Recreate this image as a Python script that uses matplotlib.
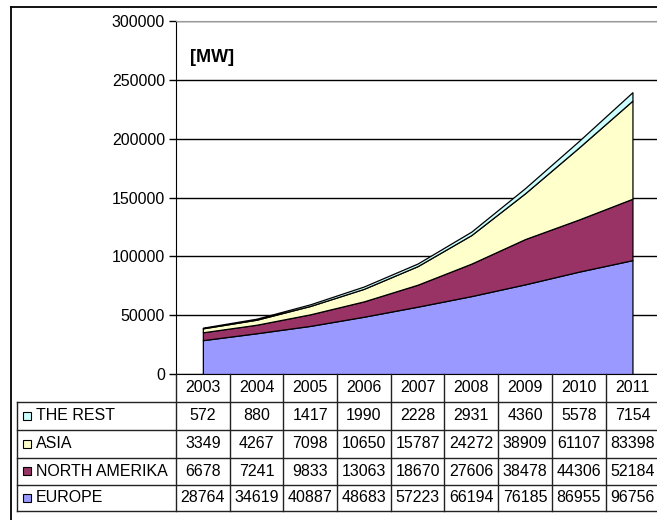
import matplotlib.pyplot as plt
from matplotlib.lines import Line2D
from matplotlib.transforms import blended_transform_factory

# data
years = ["2003", "2004", "2005", "2006", "2007", "2008", "2009", "2010", "2011"]
europe = [28764, 34619, 40887, 48683, 57223, 66194, 76185, 86955, 96756]
north_amerika = [6678, 7241, 9833, 13063, 18670, 27606, 38478, 44306, 52184]
asia = [3349, 4267, 7098, 10650, 15787, 24272, 38909, 61107, 83398]
the_rest = [572, 880, 1417, 1990, 2228, 2931, 4360, 5578, 7154]

series_names = ["EUROPE", "NORTH AMERIKA", "ASIA", "THE REST"]
series_colors = ["#9999FF", "#993366", "#FFFFCC", "#CCFFFF"]
series_values = [europe, north_amerika, asia, the_rest]

plt.rcParams["font.family"] = ["Liberation Sans", "DejaVu Sans"]
FS = 11.5

W, H = 657, 520
fig = plt.figure(figsize=(W / 100, H / 100), dpi=100)

def fx(px):
    return px / W

def fy(py):
    return 1 - py / H

# plot area in pixel coordinates
left, right, top, bottom = 176, 659.3, 21, 374
ax = fig.add_axes([fx(left), fy(bottom), fx(right) - fx(left), fy(top) - fy(bottom)])

x = list(range(len(years)))
ax.stackplot(x, *series_values, colors=series_colors, edgecolor="black", linewidth=0.9, zorder=3)

ax.set_xlim(-0.5, len(years) - 0.5)
ax.set_ylim(0, 300000)
ax.set_yticks(range(0, 300001, 50000))
ax.set_yticklabels([str(v) for v in range(0, 300001, 50000)], fontsize=FS)
ax.tick_params(axis="y", length=5, width=1, color="black", pad=3)
ax.set_xticks([])
ax.yaxis.grid(True, color="black", linewidth=1)
ax.set_axisbelow(True)
ax.spines["right"].set_visible(False)
ax.spines["top"].set_color("#999999")
ax.spines["left"].set_color("black")
ax.spines["bottom"].set_color("black")

ax.text(fx(190), fy(57), "[MW]", transform=fig.transFigure, fontsize=13,
        fontweight="bold", ha="left", va="center")

# data table below the chart
tr = blended_transform_factory(ax.transData, fig.transFigure)
row_lines = [374, 401.7, 430, 457.7, 485, 510.5]
label_left = -0.5 - (left - 17) / ((right - left) / len(years))
lc = "#222222"

def hline(x0, x1, py):
    fig.add_artist(Line2D([x0, x1], [fy(py), fy(py)], transform=tr, color=lc, lw=1))

def vline(xd, py0, py1):
    fig.add_artist(Line2D([xd, xd], [fy(py0), fy(py1)], transform=tr, color=lc, lw=1))

for py in row_lines[1:]:
    hline(label_left, len(years) - 0.5, py)
for i in range(len(years) + 1):
    vline(i - 0.5, row_lines[0], row_lines[-1])
vline(label_left, row_lines[1], row_lines[-1])

for i, yr in enumerate(years):
    fig.text(i, fy((row_lines[0] + row_lines[1]) / 2), yr, transform=tr,
             fontsize=FS, ha="center", va="center")

table_order = list(reversed(range(len(series_names))))
for r, si in enumerate(table_order):
    cy = fy((row_lines[r + 1] + row_lines[r + 2]) / 2)
    fig.add_artist(Line2D([fx(26.5)], [cy], marker="s", markersize=6,
                          markerfacecolor=series_colors[si], markeredgecolor="black",
                          markeredgewidth=0.8, transform=fig.transFigure))
    fig.text(fx(35.5), cy, series_names[si], fontsize=FS, ha="left", va="center")
    for i, v in enumerate(series_values[si]):
        fig.text(i, cy, str(v), transform=tr, fontsize=FS, ha="center", va="center")

# outer chart frame
fig.add_artist(Line2D([fx(11), fx(11)], [fy(7), 0], transform=fig.transFigure, color="black", lw=1.3))
fig.add_artist(Line2D([fx(11), 1], [fy(7), fy(7)], transform=fig.transFigure, color="black", lw=1.3))

fig.savefig("out.png", dpi=100)
